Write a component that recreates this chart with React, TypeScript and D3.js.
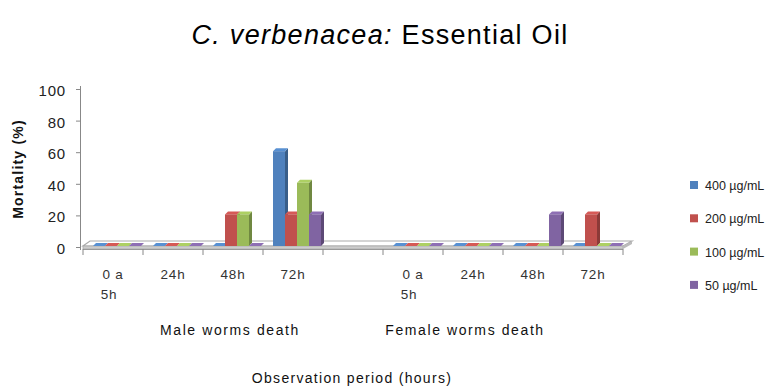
import React from "react";
import * as d3 from "d3";

const categories = ["0 a 5h", "24h", "48h", "72h", "", "0 a 5h", "24h", "48h", "72h"];
const series = ["400 µg/mL", "200 µg/mL", "100 µg/mL", "50 µg/mL"];
const s400 = [0, 0, 0, 60, null, 0, 0, 0, 0];
const s200 = [0, 0, 20, 20, null, 0, 0, 0, 20];
const s100 = [0, 0, 20, 40, null, 0, 0, 0, 0];
const s50 = [0, 0, 0, 20, null, 0, 0, 20, 0];
const yTicks = [0, 20, 40, 60, 80, 100];
const groups = [
  { label: "Male worms death", cx: 230 },
  { label: "Female worms death", cx: 465 },
];
const colors = ["#4F81BD", "#C0504D", "#9BBB59", "#8064A2"];

const W = 780;
const H = 388;
const FONT = "'Liberation Sans', Arial, sans-serif";
const DX = 3;
const DY = -3;

export default function App() {
  const values = [s400, s200, s100, s50];
  const x = d3.scaleBand<number>().domain(d3.range(categories.length)).range([83, 623]).padding(0);
  const xi = d3.scaleBand<string>().domain(series).range([10, 58]).padding(0);
  const y = d3.scaleLinear().domain([0, 100]).range([246, 88]);
  const base = y(0);
  const floorL = x.range()[0];
  const floorR = x.range()[1];

  const darker = (c: string, k: number) => d3.color(c)!.darker(k).toString();

  return (
    <svg width={W} height={H} style={{ position: "absolute", left: 0, top: 0, background: "#fff" }}>
      <rect width={W} height={H} fill="#fff" />
      {/* title */}
      <text x={380} y={44} textAnchor="middle" fontFamily={FONT} fontSize={27} letterSpacing={1.3} fill="#000">
        <tspan fontStyle="italic">C. verbenacea:</tspan>
        <tspan> Essential Oil</tspan>
      </text>

      {/* y axis */}
      <line x1={80.5} x2={80.5} y1={y(100) - 2} y2={base + 4} stroke="#888" strokeWidth={1} />
      {yTicks.map((t) => (
        <g key={t}>
          <line x1={76} x2={80.5} y1={y(t) + 1.5} y2={y(t) + 1.5} stroke="#888" />
          <text x={66} y={y(t) + 8} textAnchor="end" fontFamily={FONT} fontSize={15} letterSpacing={0.8} fill="#222">
            {t}
          </text>
        </g>
      ))}
      <text
        transform={`translate(23,${169}) rotate(-90)`}
        textAnchor="middle"
        fontFamily={FONT}
        fontSize={14}
        fontWeight="bold"
        letterSpacing={1.2}
        fill="#111"
      >
        Mortality (%)
      </text>

      {/* floor slab */}
      <polygon
        points={`${floorL},${base} ${floorR},${base} ${floorR + 9},${base - 5} ${floorL + 7},${base - 5}`}
        fill="#fff"
        stroke="#aaa"
        strokeWidth={1.2}
      />
      <rect x={floorL} y={base} width={floorR - floorL} height={3} fill="#ccc" stroke="#aaa" strokeWidth={0.8} />
      <polygon
        points={`${floorR},${base} ${floorR + 9},${base - 5} ${floorR + 9},${base - 2} ${floorR},${base + 3}`}
        fill="#bbb"
      />

      {/* x axis ticks */}
      <line x1={floorL} x2={floorR} y1={base + 3.5} y2={base + 3.5} stroke="#999" />
      {d3.range(categories.length + 1).map((i) => {
        const xx = i < categories.length ? x(i)! : floorR;
        return <line key={i} x1={xx} x2={xx} y1={base + 3} y2={base + 9} stroke="#888" />;
      })}

      {/* bars */}
      {categories.map((_, ci) =>
        series.map((s, si) => {
          const v = values[si][ci];
          if (v === null || v === undefined) return null;
          const x0 = x(ci)! + xi(s)!;
          const w = xi.bandwidth();
          const top = y(v);
          const c = colors[si];
          return (
            <g key={`${ci}-${si}`}>
              {/* side face */}
              <polygon
                points={`${x0 + w},${base} ${x0 + w},${top} ${x0 + w + DX},${top + DY} ${x0 + w + DX},${base + DY}`}
                fill={darker(c, 0.9)}
              />
              {/* top face */}
              <polygon
                points={`${x0},${top} ${x0 + w},${top} ${x0 + w + DX},${top + DY} ${x0 + DX},${top + DY}`}
                fill={d3.color(c)!.brighter(0.3).toString()}
              />
              {/* front face */}
              {v > 0 && <rect x={x0} y={top} width={w} height={base - top} fill={c} />}
            </g>
          );
        })
      )}

      {/* category labels */}
      {categories.map((c, i) => {
        if (!c) return null;
        const cx = x(i)! + x.bandwidth() / 2;
        const parts = c === "0 a 5h" ? ["0 a", "5h"] : [c];
        return (
          <text key={i} textAnchor="middle" fontFamily={FONT} fontSize={13.5} letterSpacing={0.8} fill="#333">
            {parts.map((p, k) => (
              <tspan key={k} x={cx - (k === 1 ? 4 : 0)} y={base + 33 + k * 20}>
                {p}
              </tspan>
            ))}
          </text>
        );
      })}

      {/* group labels */}
      {groups.map((g) => (
        <text
          key={g.label}
          x={g.cx}
          y={335}
          textAnchor="middle"
          fontFamily={FONT}
          fontSize={14}
          letterSpacing={1.6}
          fill="#111"
        >
          {g.label}
        </text>
      ))}

      <text x={352} y={383} textAnchor="middle" fontFamily={FONT} fontSize={14} letterSpacing={1.3} fill="#111">
        Observation period (hours)
      </text>

      {/* legend */}
      {series.map((s, i) => (
        <g key={s} transform={`translate(690,${181 + i * 33.3})`}>
          <rect x={0} y={0} width={8} height={8} fill={colors[i]} />
          <text x={15} y={9} fontFamily={FONT} fontSize={12.5} fill="#222">
            {s}
          </text>
        </g>
      ))}
    </svg>
  );
}
